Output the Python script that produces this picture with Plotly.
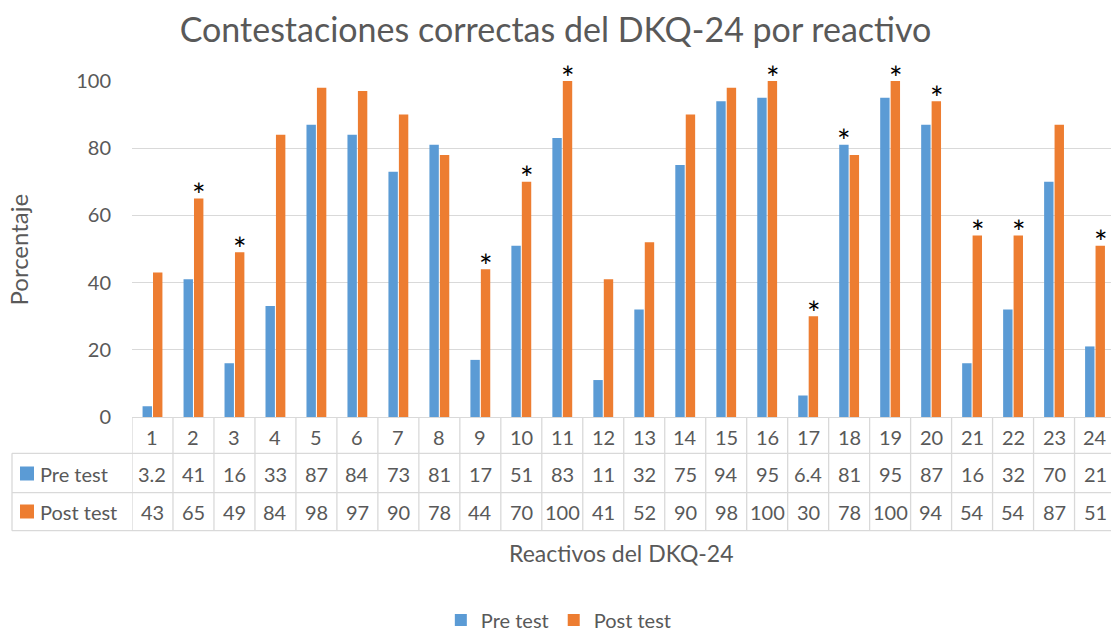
import plotly.graph_objects as go

# ---- data ----
items = list(range(1, 25))
item_labels = [str(i) for i in items]
pre_test = [3.2, 41, 16, 33, 87, 84, 73, 81, 17, 51, 83, 11, 32, 75, 94, 95, 6.4, 81, 95, 87, 16, 32, 70, 21]
post_test = [43, 65, 49, 84, 98, 97, 90, 78, 44, 70, 100, 41, 52, 90, 98, 100, 30, 78, 100, 94, 54, 54, 87, 51]
significant = [2, 3, 9, 10, 11, 16, 17, 18, 19, 20, 21, 22, 24]
series_names = ["Pre test", "Post test"]
y_ticks = [0, 20, 40, 60, 80, 100]

BLUE = "#5B9BD5"
ORANGE = "#ED7D31"
TXT = "#595959"
GRID = "#D9D9D9"
FONT = "Lato"

fig = go.Figure()
fig.add_trace(go.Bar(x=items, y=pre_test, name=series_names[0], marker_color=BLUE,
                     marker_line_width=0))
fig.add_trace(go.Bar(x=items, y=post_test, name=series_names[1], marker_color=ORANGE,
                     marker_line_width=0))

# ---- data table below the axis ----
def py(p):  # pixel row -> paper y
    return (417 - p) / 336

def px(p):  # pixel column -> paper x
    return (p - 132) / 979

shapes = []
line = dict(color=GRID, width=1.3)
row_lines = [453.3, 492.7, 530.7]
for rl in row_lines:
    shapes.append(dict(type="line", xref="paper", yref="paper", x0=px(12), x1=1,
                       y0=py(rl), y1=py(rl), line=line))
for b in [i + 0.5 for i in range(0, 25)]:
    shapes.append(dict(type="line", xref="x", yref="paper", x0=b, x1=b,
                       y0=0, y1=py(530.7), line=line))
shapes.append(dict(type="line", xref="paper", yref="paper", x0=px(12), x1=px(12),
                   y0=py(453.3), y1=py(530.7), line=line))
for key_y, col in [(473.5, BLUE), (511.5, ORANGE)]:
    shapes.append(dict(type="rect", xref="paper", yref="paper", x0=px(20), x1=px(34),
                       y0=py(key_y + 7), y1=py(key_y - 7), fillcolor=col, line_width=0))

annotations = []
# asterisks above the taller bar of each significant item
for it in significant:
    i = it - 1
    if post_test[i] >= pre_test[i]:
        sx, sy = it + 0.14, post_test[i]
    else:
        sx, sy = it - 0.13, pre_test[i]
    annotations.append(dict(x=sx, y=sy, xref="x", yref="y", text="*", showarrow=False,
                            font=dict(family=FONT, size=32, color="black"),
                            xanchor="center", yanchor="middle", yshift=4))

tfont = dict(family=FONT, size=20, color=TXT)
for it, lab, pv, qv in zip(items, item_labels, pre_test, post_test):
    annotations.append(dict(x=it, y=py(436.7), xref="x", yref="paper", text=lab,
                            showarrow=False, font=tfont, xanchor="center", yanchor="middle"))
    annotations.append(dict(x=it, y=py(474), xref="x", yref="paper", text=f"{pv:g}",
                            showarrow=False, font=tfont, xanchor="center", yanchor="middle"))
    annotations.append(dict(x=it, y=py(511.7), xref="x", yref="paper", text=f"{qv:g}",
                            showarrow=False, font=tfont, xanchor="center", yanchor="middle"))
for ry, nm in [(474, series_names[0]), (511.7, series_names[1])]:
    annotations.append(dict(x=px(38), y=py(ry), xref="paper", yref="paper", text=nm,
                            showarrow=False, font=tfont, xanchor="left", yanchor="middle"))

annotations.append(dict(x=px(17.5), y=py(250), xref="paper", yref="paper", text="Porcentaje",
                        textangle=-90, showarrow=False, font=dict(family=FONT, size=24, color=TXT),
                        xanchor="center", yanchor="middle"))
annotations.append(dict(x=0.5, y=py(553), xref="paper", yref="paper", text="Reactivos del DKQ-24",
                        showarrow=False, font=dict(family=FONT, size=23, color=TXT),
                        xanchor="center", yanchor="middle"))

fig.update_layout(
    width=1111, height=632,
    margin=dict(l=132, r=0, t=81, b=215, pad=0),
    paper_bgcolor="white", plot_bgcolor="white",
    barmode="group", bargap=0.49, bargroupgap=0.1,
    title=dict(text="Contestaciones correctas del DKQ-24 por reactivo",
               x=0.5, xanchor="center", xref="container",
               y=1 - 30 / 632, yanchor="middle", yref="container",
               font=dict(family=FONT, size=34, color=TXT)),
    font=dict(family=FONT, color=TXT),
    showlegend=True,
    legend=dict(orientation="h", xref="container", yref="container",
                x=0.503, xanchor="center", y=1 - 620 / 632, yanchor="middle",
                font=dict(family=FONT, size=20, color=TXT), traceorder="normal"),
    shapes=shapes,
    annotations=annotations,
)
fig.update_xaxes(range=[0.5, 24.39], showticklabels=False, showgrid=False, zeroline=False,
                 showline=True, linecolor=GRID, linewidth=1.3, ticks="", fixedrange=True)
fig.update_yaxes(range=[0, 100], tickvals=y_ticks, showgrid=True, gridcolor=GRID, gridwidth=1.3,
                 zeroline=False, showline=False, ticks="", ticklabelstandoff=20,
                 tickfont=dict(family=FONT, size=20, color=TXT))

fig.write_html("out.html", config={"displayModeBar": False},
               post_script="document.body.style.margin='0';document.body.style.overflow='hidden';")
